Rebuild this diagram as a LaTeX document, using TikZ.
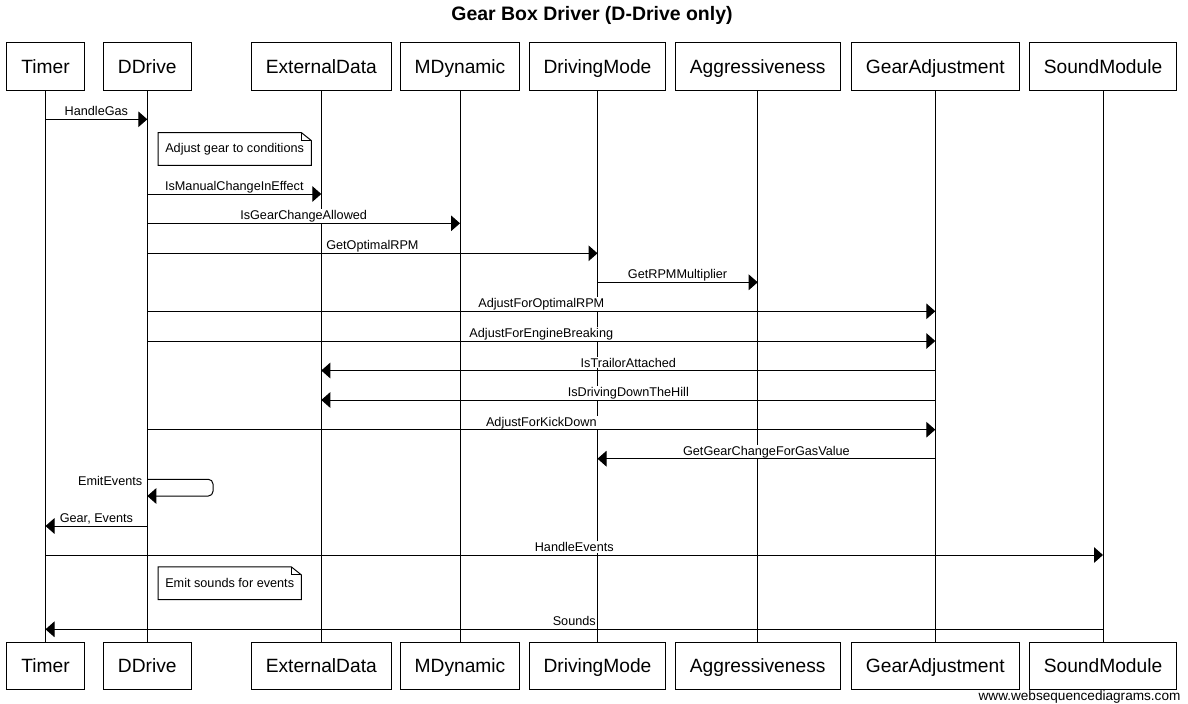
\documentclass[tikz,border=0pt]{standalone}
\usepackage{fontspec}
\setmainfont{Liberation Sans}
\usetikzlibrary{arrows.meta}
\newcommand\sqmsg[5]{% name, from, to, y, label
  \path (#2 |- 0,#4) -- node[lbl, pos=0.5] (#1) {#5} (#3 |- 0,#4);
  \draw[msg] (#2 |- 0,#4) -- (#3 |- 0,#4);}
\newcommand\sqnote[2]{% name, outline
  \draw[noteline] (#1.north west) -- ([xshift=-7.5pt]#1.north east) -- ([yshift=-6pt]#1.north east) -- (#1.south east) -- (#1.south west) -- cycle;
  \draw[noteline] ([xshift=-7.5pt]#1.north east) |- ([yshift=-6pt]#1.north east);}
\begin{document}
\begin{tikzpicture}[x=0.75pt,y=-0.75pt,
  pbox/.style={draw=black, line width=0.75pt, minimum height=35.6pt, inner xsep=10.9pt, inner ysep=0pt, text height=10.3pt, text depth=0pt, font=\fontsize{14.4}{16}\selectfont, fill=white},
  life/.style={draw=black, line width=0.75pt},
  msg/.style={draw=black, line width=0.75pt, -{Triangle[length=6.75pt,width=11.7pt]}},
  lbl/.style={font=\fontsize{9.5}{11}\selectfont, fill=white, inner xsep=1pt, inner ysep=1pt, anchor=base, yshift=2.6pt},
  selflbl/.style={font=\fontsize{9.5}{11}\selectfont, inner sep=0pt, anchor=base east},
  notebox/.style={font=\fontsize{9.5}{11}\selectfont, fill=white, inner xsep=5.25pt, inner ysep=0pt, minimum height=24.2pt, anchor=west},
  noteline/.style={draw=black, line width=0.75pt}
]
\useasboundingbox (0,0) rectangle (1188,703);
% title
\node[font=\bfseries\fontsize{14.6}{17}\selectfont, anchor=base, inner sep=0pt] (title) at (592,20) {Gear Box Driver (D-Drive only)};
% participants top
\node[pbox] (tT) at (45.5,66.5) {Timer};
\node[pbox] (tD) at (147.3,66.5) {DDrive};
\node[pbox] (tE) at (321.3,66.5) {ExternalData};
\node[pbox] (tM) at (460,66.5) {MDynamic};
\node[pbox] (tV) at (597.5,66.5) {DrivingMode};
\node[pbox] (tA) at (757.7,66.5) {Aggressiveness};
\node[pbox] (tG) at (935.3,66.5) {GearAdjustment};
\node[pbox] (tS) at (1103,66.5) {SoundModule};
% participants bottom
\node[pbox] (bT) at (45.5,665.8) {Timer};
\node[pbox] (bD) at (147.3,665.8) {DDrive};
\node[pbox] (bE) at (321.3,665.8) {ExternalData};
\node[pbox] (bM) at (460,665.8) {MDynamic};
\node[pbox] (bV) at (597.5,665.8) {DrivingMode};
\node[pbox] (bA) at (757.7,665.8) {Aggressiveness};
\node[pbox] (bG) at (935.3,665.8) {GearAdjustment};
\node[pbox] (bS) at (1103,665.8) {SoundModule};
% lifelines
\foreach \p in {T,D,E,M,V,A,G,S}{\draw[life] (t\p.south) -- (b\p.north);}
% notes
\node[notebox] (n1) at (158,148.9) {Adjust gear to conditions};
\sqnote{n1}{}
\node[notebox] (n2) at (158,583.3) {Emit sounds for events};
\sqnote{n2}{}
% messages
\sqmsg{m1}{tT}{tD}{119.3}{HandleGas}
\sqmsg{m2}{tD}{tE}{194}{IsManualChangeInEffect}
\sqmsg{m3}{tD}{tM}{223.3}{IsGearChangeAllowed}
\sqmsg{m4}{tD}{tV}{253.3}{GetOptimalRPM}
\sqmsg{m5}{tV}{tA}{282.3}{GetRPMMultiplier}
\sqmsg{m6}{tD}{tG}{311.3}{AdjustForOptimalRPM}
\sqmsg{m7}{tD}{tG}{341}{AdjustForEngineBreaking}
\sqmsg{m8}{tG}{tE}{370.5}{IsTrailorAttached}
\sqmsg{m9}{tG}{tE}{400}{IsDrivingDownTheHill}
\sqmsg{m10}{tD}{tG}{429.7}{AdjustForKickDown}
\sqmsg{m11}{tG}{tV}{458.7}{GetGearChangeForGasValue}
% self message
\node[selflbl] (m12) at (142.5,485) {EmitEvents};
\draw[msg, rounded corners=3.5pt] (tD |- 0,479.3) -- (213,479.3) -- (213,496) -- (tD |- 0,496);
\sqmsg{m13}{tD}{tT}{526}{Gear, Events}
\sqmsg{m14}{tT}{tS}{555}{HandleEvents}
\sqmsg{m15}{tS}{tT}{629.3}{Sounds}
% watermark
\node[font=\fontsize{10.2}{12}\selectfont, anchor=base east, inner sep=0pt] (wm) at (1180.7,700.5) {www.websequencediagrams.com};
\end{tikzpicture}
\end{document}
